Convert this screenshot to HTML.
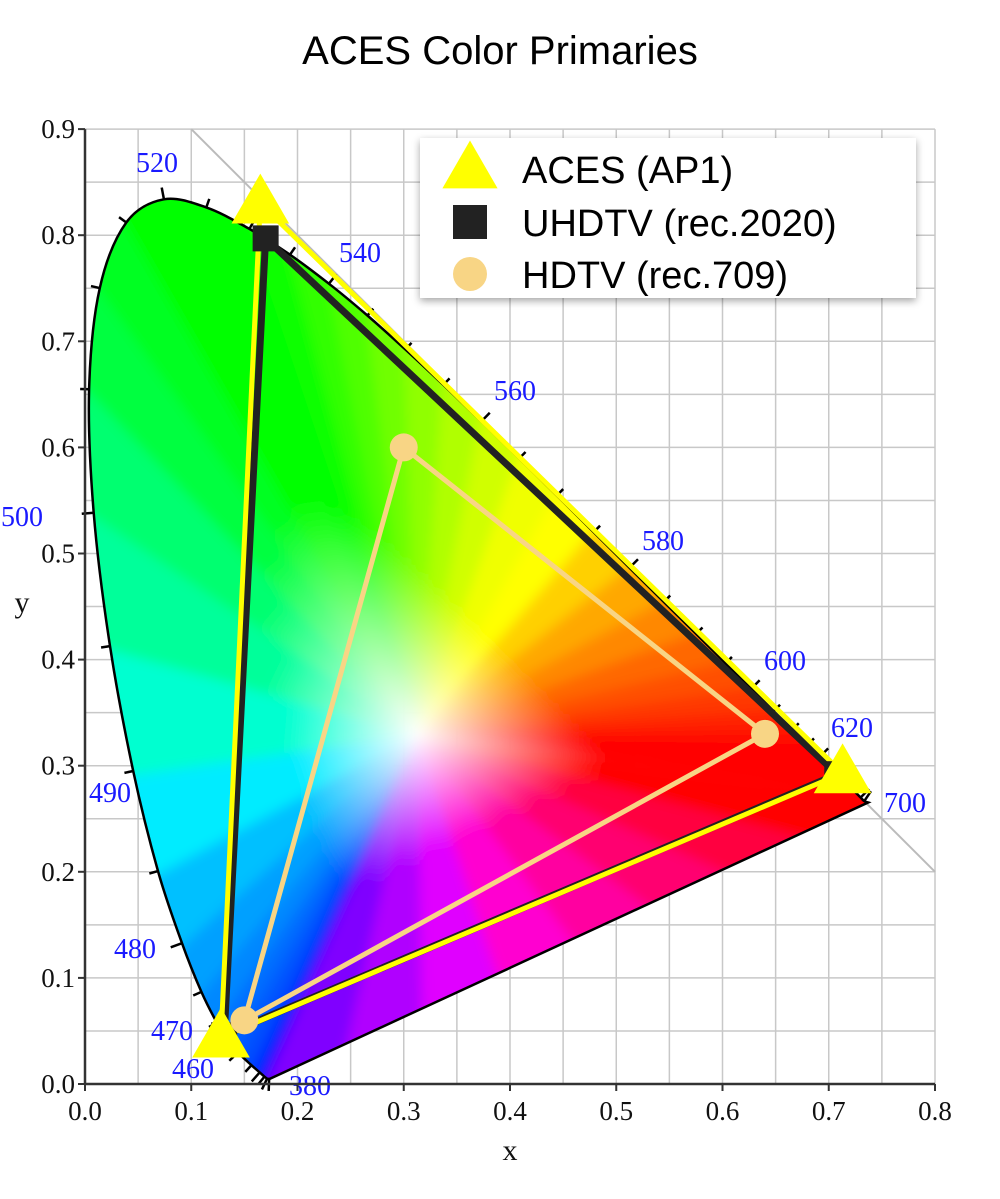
<!DOCTYPE html>
<html><head><meta charset="utf-8"><style>
html,body{margin:0;padding:0;background:#fff;}
svg{display:block;}
</style></head><body>
<svg id="chart" width="1000" height="1199" viewBox="0 0 1000 1199" xmlns="http://www.w3.org/2000/svg">
<defs id="defs"></defs>
<text x="500" y="64" text-anchor="middle" font-family="Liberation Sans, sans-serif" font-size="40" fill="#000">ACES Color Primaries</text>
<g id="grid"></g>
<g id="locus"></g>
<g id="gamuts"></g>
<g id="axes"></g>
<g id="legend"></g>
</svg>
<script>
const xTicks=[0.0,0.1,0.2,0.3,0.4,0.5,0.6,0.7,0.8];
const yTicks=[0.0,0.1,0.2,0.3,0.4,0.5,0.6,0.7,0.8,0.9];
const locusNm=[380,400,420,430,440,450,460,465,470,475,480,485,490,495,500,505,510,515,520,525,530,535,540,545,550,555,560,565,570,575,580,585,590,595,600,605,610,615,620,625,630,640,650,660,680,700];
const locusX=[0.1741,0.1733,0.1714,0.1689,0.1644,0.1566,0.1440,0.1355,0.1241,0.1096,0.0913,0.0687,0.0454,0.0235,0.0082,0.0039,0.0139,0.0389,0.0743,0.1142,0.1547,0.1929,0.2296,0.2658,0.3016,0.3373,0.3731,0.4087,0.4441,0.4788,0.5125,0.5448,0.5752,0.6029,0.6270,0.6482,0.6658,0.6801,0.6915,0.7006,0.7079,0.7190,0.7260,0.7300,0.7334,0.7370];
const locusY=[0.0050,0.0048,0.0051,0.0069,0.0109,0.0177,0.0297,0.0399,0.0578,0.0868,0.1327,0.2007,0.2950,0.4127,0.5384,0.6548,0.7502,0.8120,0.8338,0.8262,0.8059,0.7816,0.7543,0.7243,0.6923,0.6589,0.6245,0.5896,0.5547,0.5202,0.4866,0.4544,0.4242,0.3965,0.3725,0.3514,0.3340,0.3197,0.3083,0.2993,0.2920,0.2809,0.2740,0.2700,0.2666,0.2653];
const locusColor=['#7000ff','#6000ff','#4000ff','#2000ff','#0010ff','#0030ff','#0050ff','#0060ff','#0070ff','#0088ff','#00a0ff','#00c0ff','#00ecff','#00ffd0','#00ff9a','#00ff70','#00ff40','#00ff20','#00ff00','#00ff00','#00ff00','#10ff00','#30ff00','#50ff00','#70ff00','#90ff00','#b0ff00','#d0ff00','#f0ff00','#ffff00','#ffd000','#ffa800','#ff8800','#ff6800','#ff5000','#ff3800','#ff2000','#ff1000','#ff0000','#ff0000','#ff0000','#ff0000','#ff0000','#ff0000','#ff0000','#ff0000'];
const labelNm=['520','540','560','580','600','620','700','500','490','480','470','460','380'];
const labelPos=[[157,172],[360,262],[515,400],[663,550],[785,670],[852,737],[905,812],[22,526],[110,802],[135,958],[172,1040],[193,1078],[310,1095]];
const seriesNames=['ACES (AP1)','UHDTV (rec.2020)','HDTV (rec.709)'];
const ap1X=[0.713,0.165,0.128], ap1Y=[0.293,0.830,0.044];
const r2020X=[0.708,0.170,0.131], r2020Y=[0.292,0.797,0.046];
const r709X=[0.64,0.30,0.15], r709Y=[0.33,0.60,0.06];
const whiteX=0.3127, whiteY=0.329;

const NS='http://www.w3.org/2000/svg';
const X0=85,XS=1062.5,Y0=1084,YS=1061;
const sx=v=>X0+v*XS, sy=v=>Y0-v*YS;
function mk(tag,attrs,parent){const e=document.createElementNS(NS,tag);for(const k in attrs)e.setAttribute(k,attrs[k]);parent.appendChild(e);return e;}
const defs=document.getElementById('defs');
const grid=document.getElementById('grid');
for(let i=0;i<=16;i++){const v=i*0.05;
 const gl=mk('line',{x1:sx(v),x2:sx(v),y1:sy(0.9),y2:sy(0),stroke:'#c8c8c8','stroke-width':1.5},grid);
 }
for(let i=0;i<=18;i++){const v=i*0.05;
 const gl=mk('line',{x1:sx(0),x2:sx(0.8),y1:sy(v),y2:sy(v),stroke:'#c8c8c8','stroke-width':1.5},grid);
 }
const diag=mk('line',{x1:sx(0.1),y1:sy(0.9),x2:sx(0.8),y2:sy(0.2),stroke:'#bbb','stroke-width':2},grid);


const locus=document.getElementById('locus');
const wx=sx(whiteX),wy=sy(whiteY);
// smooth Catmull-Rom path through locus, closed with straight purple line
const P=locusX.map((v,i)=>[sx(v),sy(locusY[i])]);
let d='M'+P[0][0].toFixed(1)+','+P[0][1].toFixed(1);
for(let i=0;i<P.length-1;i++){
 const p0=P[Math.max(0,i-1)],p1=P[i],p2=P[i+1],p3=P[Math.min(P.length-1,i+2)];
 const c1=[p1[0]+(p2[0]-p0[0])/6,p1[1]+(p2[1]-p0[1])/6];
 const c2=[p2[0]-(p3[0]-p1[0])/6,p2[1]-(p3[1]-p1[1])/6];
 d+=`C${c1[0].toFixed(1)},${c1[1].toFixed(1)} ${c2[0].toFixed(1)},${c2[1].toFixed(1)} ${p2[0].toFixed(1)},${p2[1].toFixed(1)}`;
}
d+='Z';
const clip=mk('clipPath',{id:'lc'},defs);
mk('path',{d:d},clip);
const fillG=mk('g',{'clip-path':'url(#lc)'},locus);
function wedge(x1,y1,x2,y2,c1,id){
 const mx=(x1+x2)/2,my=(y1+y2)/2;
 // extend outward so curved outline is covered
 const ex=(mx-wx)*0.25,ey=(my-wy)*0.25;
 const g=mk('linearGradient',{id:id,gradientUnits:'userSpaceOnUse',x1:wx,y1:wy,x2:mx,y2:my},defs);
 mk('stop',{offset:0,'stop-color':'#fff'},g);
 mk('stop',{offset:0.45,'stop-color':c1},g);
 mk('stop',{offset:1,'stop-color':c1},g);
 const dx=(x2-x1)*0.04,dy=(y2-y1)*0.04;
 const ax=x1-dx+(x1-wx)*0.25, ay=y1-dy+(y1-wy)*0.25, bx=x2+dx+(x2-wx)*0.25, by=y2+dy+(y2-wy)*0.25;
 const p=mk('path',{d:`M${wx},${wy}L${ax},${ay}L${bx},${by}Z`,fill:`url(#${id})`},fillG);
 
}
for(let i=0;i<locusX.length-1;i++){
 wedge(P[i][0],P[i][1],P[i+1][0],P[i+1][1],locusColor[i+1],'w'+i);
}
const pc=['#ff0000','#ff0040','#ff0070','#ff00a0','#ff00d0','#e000ff','#b000ff','#8000ff'];
const n=locusX.length-1;
for(let k=0;k<8;k++){
 const t1=k/8,t2=(k+1)/8;
 const ax=locusX[n]+(locusX[0]-locusX[n])*t1, ay=locusY[n]+(locusY[0]-locusY[n])*t1;
 const bx=locusX[n]+(locusX[0]-locusX[n])*t2, by=locusY[n]+(locusY[0]-locusY[n])*t2;
 wedge(sx(ax),sy(ay),sx(bx),sy(by),pc[k],'p'+k);
}
// soft blur overlay to reduce banding
const bf=mk('filter',{id:'bl',x:'-5%',y:'-5%',width:'110%',height:'110%'},defs);
mk('feGaussianBlur',{stdDeviation:6},bf);
fillG.setAttribute('filter','url(#bl)');
const fillWrap=mk('g',{'clip-path':'url(#lc)'},locus);
locus.insertBefore(fillWrap,fillG);fillWrap.appendChild(fillG);
const outline=mk('path',{d:d,fill:'none',stroke:'#000','stroke-width':2.5},locus);

for(let i=1;i<locusX.length-1;i++){
 const nm=locusNm[i];
 const ax=P[i-1][0],ay=P[i-1][1],bx=P[i+1][0],by=P[i+1][1];
 let tx=bx-ax,ty=by-ay;const L=Math.hypot(tx,ty)||1;tx/=L;ty/=L;
 let nx=ty,ny=-tx;
 const px=P[i][0],py=P[i][1];
 if((px-wx)*nx+(py-wy)*ny<0){nx=-nx;ny=-ny;}
 const len=nm%20===0?12:9;
 const tk=mk('line',{x1:px,y1:py,x2:px+nx*len,y2:py+ny*len,stroke:'#000','stroke-width':2.5},locus);
 
}
for(let i=0;i<labelNm.length;i++){
 const t=mk('text',{x:labelPos[i][0],y:labelPos[i][1],'text-anchor':'middle','font-family':'Liberation Serif, serif','font-size':28,fill:'#1a1aff'},locus);
 t.textContent=labelNm[i];
 
}

const gam=document.getElementById('gamuts');
function tri(xs,ys,color,w,name){
 const pts=xs.map((v,i)=>sx(v)+','+sy(ys[i])).join(' ');
 const p=mk('polygon',{points:pts,fill:'none',stroke:color,'stroke-width':w,'stroke-linejoin':'round'},gam);
 
}
tri(r2020X,r2020Y,'#222',7,'rec2020-triangle');
tri(ap1X,ap1Y,'#ffff00',5,'ap1-triangle');
tri(r709X,r709Y,'#f8d585',5,'rec709-triangle');
function square(cx,cy,s,par){return mk('rect',{x:cx-s/2,y:cy-s/2,width:s,height:s,fill:'#222'},par);}
function triangle(cx,cy,s,par){return mk('polygon',{points:`${cx},${cy-s*0.62} ${cx-s*0.6},${cy+s*0.42} ${cx+s*0.6},${cy+s*0.42}`,fill:'#ffff00'},par);}
for(let i=0;i<3;i++){
 const m=square(sx(r2020X[i]),sy(r2020Y[i]),26,gam);
 
}
for(let i=0;i<3;i++){
 const m=triangle(sx(ap1X[i]),sy(ap1Y[i]),48,gam);
 
}
for(let i=0;i<3;i++){
 const m=mk('circle',{cx:sx(r709X[i]),cy:sy(r709Y[i]),r:14,fill:'#f8d585'},gam);
 
}

const axes=document.getElementById('axes');
mk('line',{x1:X0,y1:sy(0.9),x2:X0,y2:Y0,stroke:'#333','stroke-width':2.5},axes);
mk('line',{x1:X0,y1:Y0,x2:sx(0.8),y2:Y0,stroke:'#333','stroke-width':2.5},axes);
xTicks.forEach(v=>{
 mk('line',{x1:sx(v),x2:sx(v),y1:Y0,y2:Y0+7,stroke:'#333','stroke-width':2},axes);
 const t=mk('text',{x:sx(v),y:Y0+36,'text-anchor':'middle','font-family':'Liberation Serif, serif','font-size':27,fill:'#111'},axes);
 t.textContent=v.toFixed(1);
 
});
yTicks.forEach(v=>{
 mk('line',{x1:X0-7,x2:X0,y1:sy(v),y2:sy(v),stroke:'#333','stroke-width':2},axes);
 const t=mk('text',{x:X0-10,y:sy(v)+9,'text-anchor':'end','font-family':'Liberation Serif, serif','font-size':27,fill:'#111'},axes);
 t.textContent=v.toFixed(1);
 
});
const xt=mk('text',{x:510,y:1160,'text-anchor':'middle','font-family':'Liberation Serif, serif','font-size':30,fill:'#111'},axes);
xt.textContent='x';
const yt=mk('text',{x:22,y:612,'text-anchor':'middle','font-family':'Liberation Serif, serif','font-size':30,fill:'#111'},axes);
yt.textContent='y';

const lg=document.getElementById('legend');
const f=mk('filter',{id:'sh',x:'-10%',y:'-10%',width:'120%',height:'130%'},defs);
mk('feDropShadow',{dx:0,dy:3,stdDeviation:4,'flood-color':'#000','flood-opacity':0.35},f);
const box=mk('rect',{x:420,y:138,width:496,height:160,fill:'#fff',filter:'url(#sh)'},lg);

const ly=[179,232,284];
for(let i=0;i<3;i++){
 const e=mk('g',{},lg);
 
 let m;
 if(i===0)m=triangle(470,ly[i]-10,46,e);
 else if(i===1)m=square(470,ly[i]-10,34,e);
 else m=mk('circle',{cx:470,cy:ly[i]-10,r:17,fill:'#f8d585'},e);
 
 const t=mk('text',{x:522,y:ly[i]+4,'font-family':'Liberation Sans, sans-serif','font-size':38,fill:'#000'},e);
 t.textContent=seriesNames[i];
 
}
</script>
</body></html>
